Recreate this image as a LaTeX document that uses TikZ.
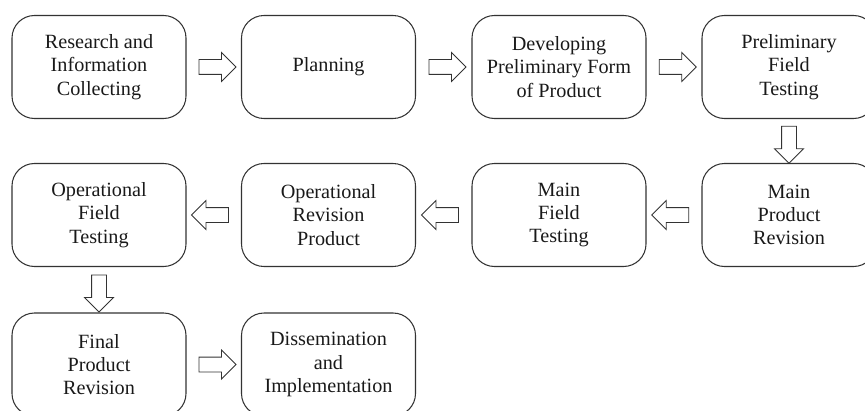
\documentclass[tikz,border=0pt]{standalone}
\usepackage{fontspec}
\setmainfont{Liberation Serif}
\usetikzlibrary{shapes.arrows,calc}

\begin{document}
\begin{tikzpicture}[stagebox/.style={rectangle, draw=black!80, line width=0.6pt, rounded corners=0.45cm, minimum width=3.48cm, minimum height=2.06cm, align=center, font=\fontsize{11.5}{13.2}\selectfont, text=black!90},
  blockarrow/.style={single arrow, draw=black!80, line width=0.5pt, inner xsep=0pt, inner ysep=0.14cm, minimum height=0.74cm, single arrow head extend=0.14cm}]

\useasboundingbox (0,0) rectangle (17.3,-8.2);

\node [stagebox] (RIC) at (1.98, -1.34) {Research and\\Information\\Collecting};
\node [stagebox] (PL) at (6.57, -1.34) {Planning};
\node [stagebox] (DPF) at (11.18, -1.34) {Developing\\Preliminary Form\\of Product};
\node [stagebox] (PFT) at (15.78, -1.34) {Preliminary\\Field\\Testing};

\node [stagebox] (MPR) at (15.78, -4.30) {Main\\Product\\Revision};
\node [stagebox] (MFT) at (11.18, -4.30) {Main\\Field\\Testing};
\node [stagebox] (ORP) at (6.57, -4.30) {Operational\\Revision\\Product};
\node [stagebox] (OFT) at (1.98, -4.30) {Operational\\Field\\Testing};

\node [stagebox] (FPR) at (1.98, -7.29) {Final\\Product\\Revision};
\node [stagebox] (DI) at (6.57, -7.29) {Dissemination\\and\\Implementation};


\node [blockarrow] (A1) at ($(RIC.east)!.5!(PL.west)$) {};
\node [blockarrow] (A2) at ($(PL.east)!.5!(DPF.west)$) {};
\node [blockarrow] (A3) at ($(DPF.east)!.5!(PFT.west)$) {};
\node [blockarrow, rotate=-90] (A4) at ($(PFT.south)!.5!(MPR.north)$) {};

\node [blockarrow, rotate=180] (A5) at ($(MPR.west)!.5!(MFT.east)$) {};
\node [blockarrow, rotate=180] (A6) at ($(MFT.west)!.5!(ORP.east)$) {};
\node [blockarrow, rotate=180] (A7) at ($(ORP.west)!.5!(OFT.east)$) {};
\node [blockarrow, rotate=-90] (A8) at ($(OFT.south)!.5!(FPR.north)$) {};

\node [blockarrow] (A9) at ($(FPR.east)!.5!(DI.west)$) {};


\end{tikzpicture}
\end{document}
